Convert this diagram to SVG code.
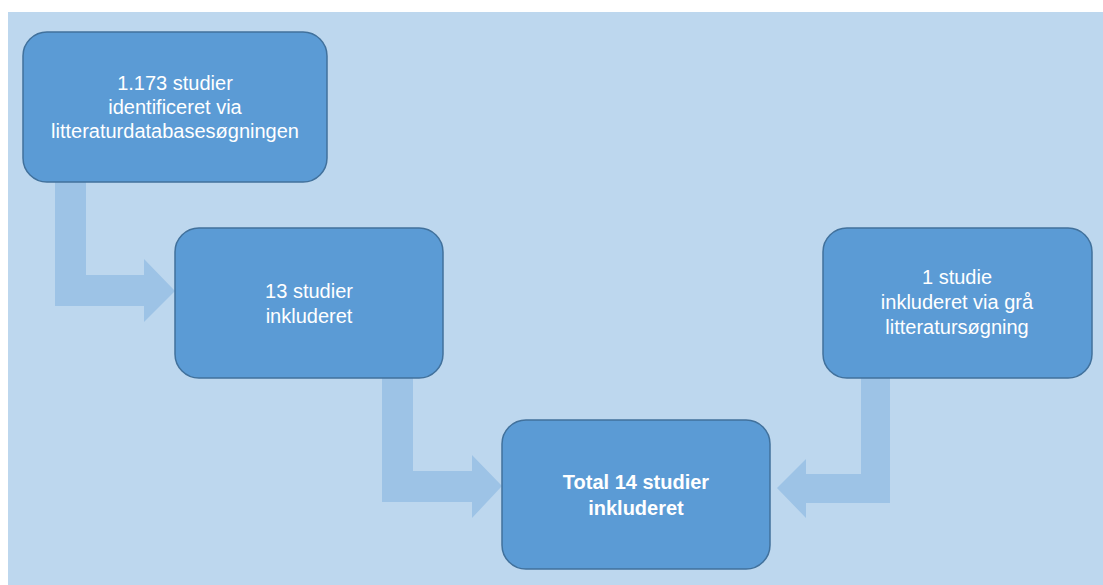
<svg xmlns="http://www.w3.org/2000/svg" width="1103" height="585" viewBox="0 0 1103 585">
<style>
.box{fill:#5B9BD5;stroke:#41719C;stroke-width:1.5}
.t{font-family:"Liberation Sans",Arial,sans-serif;font-size:20px;fill:#FFFFFF;text-anchor:middle}
.b{font-weight:bold}
.arr{fill:#9DC3E6}
</style>
<rect x="0" y="0" width="1103" height="585" fill="#FFFFFF"/>
<rect x="8" y="12" width="1095" height="573" fill="#BDD7EE"/>
<g id="connectors">
<path class="arr" d="M55,182 H86 V275 H144 V259 L175,291 L144,322 V306 H55 Z"/>
<path class="arr" d="M382,378 H413 V471 H472 V455 L502,486 L472,518 V502 H382 Z"/>
<path class="arr" d="M890,378 H861 V474 H806 V459 L777,488 L806,518 V503 H890 Z"/>
</g>
<g id="node1">
<rect class="box" x="23" y="32" width="304" height="150" rx="24"/>
<text class="t" x="175" y="90">1.173 studier</text>
<text class="t" x="175" y="114">identificeret via</text>
<text class="t" x="175" y="138">litteraturdatabasesøgningen</text>
</g>
<g id="node2">
<rect class="box" x="175" y="228" width="268" height="150" rx="24"/>
<text class="t" x="309" y="298">13 studier</text>
<text class="t" x="309" y="323">inkluderet</text>
</g>
<g id="node3">
<rect class="box" x="502" y="420" width="268" height="149" rx="24"/>
<text class="t b" x="636" y="489">Total 14 studier</text>
<text class="t b" x="636" y="515">inkluderet</text>
</g>
<g id="node4">
<rect class="box" x="823" y="228" width="269" height="150" rx="24"/>
<text class="t" x="957" y="284">1 studie</text>
<text class="t" x="957" y="309">inkluderet via grå</text>
<text class="t" x="957" y="334">litteratursøgning</text>
</g>
</svg>
